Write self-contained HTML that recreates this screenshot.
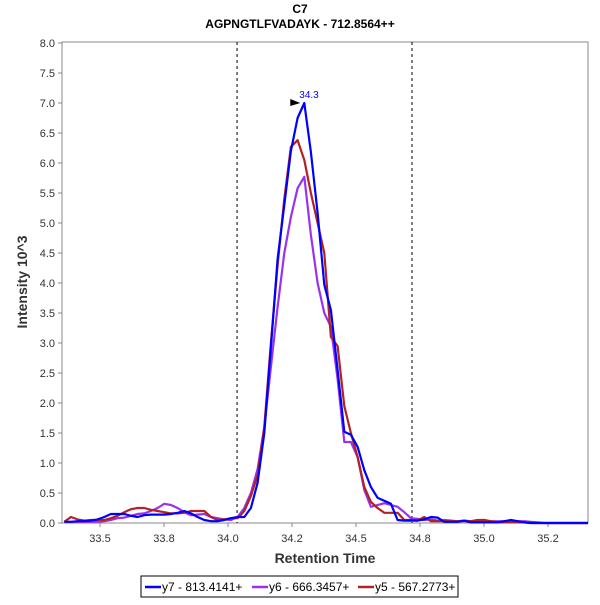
<!DOCTYPE html>
<html><head><meta charset="utf-8"><style>
body{margin:0;background:#fff;}
svg text{font-family:"Liberation Sans",sans-serif;}
</style></head><body>
<svg id="chart" width="600" height="600" xmlns="http://www.w3.org/2000/svg">
<text x="300" y="13" text-anchor="middle" font-size="12" font-weight="bold" fill="#000">C7</text>
<text x="300" y="28" text-anchor="middle" font-size="12" font-weight="bold" fill="#000">AGPNGTLFVADAYK - 712.8564++</text>
<rect x="62" y="42" width="526" height="481" fill="#fff" stroke="#888"/>
<g id="yaxis"></g>
<g id="xaxis"></g>
<text x="0" y="0" transform="translate(27,282) rotate(-90)" text-anchor="middle" font-size="14" font-weight="bold" fill="#333">Intensity 10^3</text>
<text x="325" y="563" text-anchor="middle" font-size="14" font-weight="bold" fill="#333">Retention Time</text>
<g id="marks"></g>
<g>
<rect x="141" y="576" width="317" height="21" fill="#fff" stroke="#000"/>
<line x1="145" y1="587" x2="161" y2="587" stroke="#0000ff" stroke-width="2.5"/>
<text x="162" y="591" font-size="12" fill="#000">y7 - 813.4141+</text>
<line x1="252" y1="587" x2="268" y2="587" stroke="#9932ee" stroke-width="2.5"/>
<text x="269" y="591" font-size="12" fill="#000">y6 - 666.3457+</text>
<line x1="358" y1="587" x2="374" y2="587" stroke="#b22222" stroke-width="2.5"/>
<text x="375" y="591" font-size="12" fill="#000">y5 - 567.2773+</text>
</g>
</svg>
<script>
const t0 = 33.386, dt = 0.025;
const y7 = [0.02,0.02,0.03,0.03,0.04,0.06,0.1,0.15,0.15,0.15,0.12,0.1,0.13,0.14,0.14,0.14,0.15,0.17,0.2,0.16,0.1,0.05,0.03,0.03,0.05,0.08,0.1,0.1,0.25,0.67,1.5,2.93,4.4,5.3,6.2,6.75,7.0,6.18,5.17,3.97,3.55,2.55,1.52,1.47,1.27,0.88,0.6,0.42,0.37,0.32,0.05,0.04,0.04,0.04,0.06,0.1,0.09,0.02,0.02,0.02,0.04,0.01,0.01,0.01,0.01,0.01,0.03,0.05,0.03,0.01,0,0,0,0,0,0,0,0];
const y6 = [0.02,0.02,0.02,0.02,0.02,0.02,0.03,0.05,0.08,0.09,0.12,0.15,0.16,0.2,0.25,0.32,0.3,0.25,0.18,0.13,0.14,0.15,0.1,0.08,0.06,0.05,0.1,0.25,0.5,0.9,1.6,2.6,3.6,4.5,5.1,5.58,5.77,4.8,4.0,3.5,3.27,2.4,1.35,1.35,1.1,0.55,0.27,0.3,0.33,0.3,0.27,0.18,0.08,0.07,0.05,0.06,0.04,0.05,0.04,0.03,0.04,0.03,0.03,0.03,0.03,0.03,0.03,0.03,0.03,0.03,0.02,0.01,0,0,0,0,0,0];
const y5 = [0.02,0.1,0.06,0.04,0.05,0.05,0.05,0.08,0.12,0.18,0.23,0.25,0.25,0.22,0.2,0.18,0.16,0.16,0.17,0.2,0.2,0.2,0.1,0.05,0.06,0.08,0.08,0.2,0.45,0.8,1.6,3.0,4.3,5.4,6.27,6.38,6.05,5.5,5.0,4.5,3.1,2.95,1.95,1.5,1.1,0.6,0.35,0.25,0.17,0.17,0.17,0.05,0.05,0.04,0.1,0.03,0.03,0.03,0.03,0.03,0.03,0.03,0.05,0.05,0.03,0.01,0.01,0.01,0.01,0.01,0,0,0,0,0,0,0,0];
const xTickVals = [33.52,33.76,34.0,34.24,34.48,34.72,34.96,35.2];
const xTickLabels = ["33.5","33.8","34.0","34.2","34.5","34.8","35.0","35.2"];
const yTicks = [0,0.5,1,1.5,2,2.5,3,3.5,4,4.5,5,5.5,6,6.5,7,7.5,8];
const boundaries = [34.034,34.69];
const peakTime = 34.286, peakVal = 7.0, peakLabel = "34.3";

const NS="http://www.w3.org/2000/svg";
function X(t){return 100+(t-33.52)/0.24*64;}
function Y(v){return 523-v*60;}
function mk(tag,attrs,parent){const e=document.createElementNS(NS,tag);for(const k in attrs)e.setAttribute(k,attrs[k]);parent.appendChild(e);return e;}
const ya=document.getElementById('yaxis'), xa=document.getElementById('xaxis'), mg=document.getElementById('marks');
yTicks.forEach(v=>{
  const l=mk('line',{x1:58,x2:62,y1:Y(v),y2:Y(v),stroke:'#888'},ya);
  
  
  const t=mk('text',{x:55,y:Y(v)+4,'text-anchor':'end','font-size':11,fill:'#333'},ya);
  t.textContent=v.toFixed(1);
  
  
});
xTickVals.forEach((v,i)=>{
  const l=mk('line',{x1:X(v),x2:X(v),y1:523,y2:527,stroke:'#888'},xa);
  
  
  const t=mk('text',{x:X(v),y:542,'text-anchor':'middle','font-size':11,fill:'#333'},xa);
  t.textContent=xTickLabels[i];
  
  
});
boundaries.forEach(b=>{
  const l=mk('line',{x1:X(b),x2:X(b),y1:42,y2:523,stroke:'#000','stroke-dasharray':'3,3','stroke-width':1},mg);
  
  
});
function series(arr,color,name){
  const pts=arr.map((v,i)=>X(t0+i*dt).toFixed(1)+','+Y(v).toFixed(1));
  pts.push('588,'+Y(0));
  const p=mk('polyline',{points:pts.join(' '),fill:'none',stroke:color,'stroke-width':2.2,'stroke-linejoin':'round'},mg);
  
  
}
series(y6,'#9932ee','series-y6');
series(y5,'#b22222','series-y5');
series(y7,'#0000ff','series-y7');
const px=X(peakTime), py=Y(peakVal);
const arr=mk('polygon',{points:(px-14)+','+(py-4)+' '+(px-4)+','+py+' '+(px-14)+','+(py+3),fill:'#000'},mg);


const pl=mk('text',{x:px-5,y:py-5,'font-size':10,fill:'#0000ff'},mg);
pl.textContent=peakLabel;


</script>
</body></html>
